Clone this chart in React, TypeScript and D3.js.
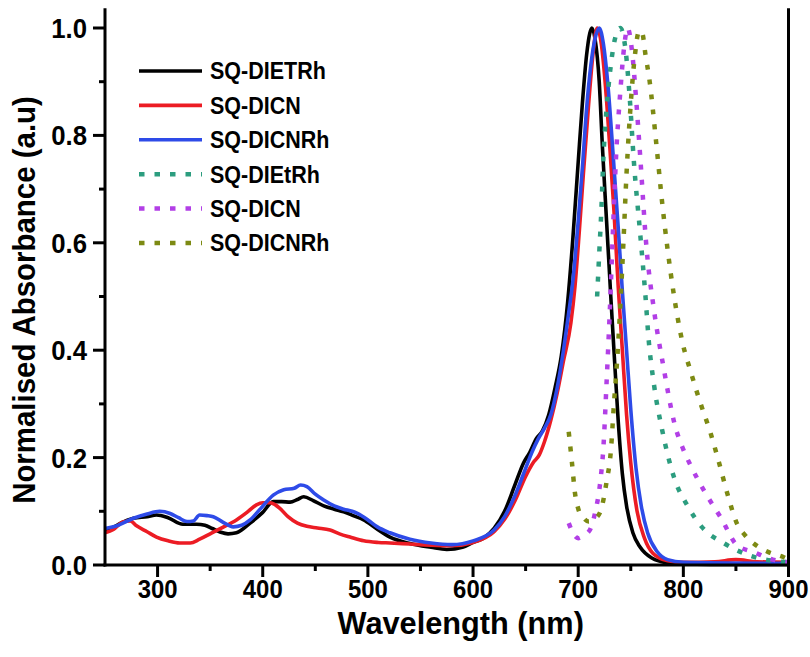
import React from "react";
import * as d3 from "d3";

type P = [number, number];

const xTicksMajor = [300, 400, 500, 600, 700, 800, 900];
const xTicksMinor = [350, 450, 550, 650, 750, 850];
const yTicksMajor = [0, 0.2, 0.4, 0.6, 0.8, 1.0];
const yTicksMinor = [0.1, 0.3, 0.5, 0.7, 0.9];

const sqDIETRh: P[] = [[250,0.062],[258,0.07],[265,0.078],[277,0.087],[290,0.09],[299,0.093],[310,0.088],[324,0.076],[337,0.076],[345,0.074],[352,0.068],[360,0.061],[367,0.058],[375,0.06],[388,0.078],[400,0.098],[410,0.118],[418,0.118],[426,0.117],[433,0.122],[439,0.127],[448,0.12],[458,0.11],[468,0.104],[477,0.099],[486,0.092],[496,0.084],[508,0.068],[521,0.052],[540,0.04],[560,0.033],[575,0.029],[590,0.033],[600,0.042],[610,0.05],[620,0.068],[630,0.1],[640,0.15],[648,0.19],[654,0.21],[660,0.235],[666,0.25],[672,0.28],[678,0.33],[684,0.39],[690,0.49],[695,0.61],[700,0.75],[704,0.86],[708,0.95],[711,0.99],[713,1.0],[716,0.98],[720,0.9],[723,0.78],[727,0.64],[731,0.5],[734,0.4],[738,0.27],[742,0.17],[746,0.11],[752,0.06],[759,0.033],[770,0.013],[785,0.004],[800,0.002],[850,0.001],[900,0.001]];

const sqDICN: P[] = [[250,0.06],[258,0.066],[267,0.08],[274,0.082],[280,0.073],[290,0.062],[299,0.052],[310,0.045],[321,0.041],[331,0.041],[340,0.048],[350,0.058],[362,0.07],[375,0.084],[385,0.098],[394,0.112],[400,0.116],[407,0.116],[412,0.112],[416,0.106],[424,0.09],[433,0.078],[442,0.072],[452,0.069],[464,0.065],[473,0.058],[483,0.052],[496,0.045],[510,0.042],[521,0.041],[540,0.039],[560,0.037],[580,0.036],[600,0.042],[620,0.062],[630,0.085],[640,0.12],[650,0.165],[657,0.19],[663,0.205],[668,0.23],[674,0.27],[680,0.32],[686,0.38],[693,0.45],[697,0.52],[701,0.62],[705,0.73],[710,0.86],[714,0.95],[718,1.0],[722,0.97],[726,0.89],[730,0.78],[734,0.66],[738,0.52],[742,0.4],[746,0.28],[750,0.19],[756,0.1],[763,0.05],[771,0.022],[785,0.008],[800,0.005],[830,0.006],[850,0.01],[870,0.006],[900,0.005]];

const sqDICNRh: P[] = [[250,0.068],[260,0.072],[277,0.087],[290,0.095],[302,0.1],[312,0.096],[320,0.088],[328,0.081],[334,0.082],[340,0.093],[347,0.092],[353,0.09],[362,0.08],[372,0.071],[380,0.074],[388,0.084],[398,0.105],[410,0.13],[420,0.14],[430,0.143],[436,0.149],[442,0.146],[450,0.132],[458,0.121],[468,0.11],[477,0.104],[485,0.1],[490,0.096],[500,0.084],[509,0.071],[521,0.06],[540,0.048],[560,0.041],[580,0.038],[600,0.045],[620,0.065],[630,0.09],[640,0.13],[650,0.18],[656,0.21],[662,0.235],[668,0.255],[674,0.28],[680,0.33],[686,0.4],[691,0.47],[695,0.53],[700,0.64],[704,0.74],[708,0.85],[712,0.93],[716,0.98],[720,1.0],[724,0.97],[728,0.9],[733,0.77],[738,0.63],[742,0.51],[746,0.4],[750,0.29],[755,0.18],[760,0.11],[766,0.06],[775,0.025],[785,0.01],[800,0.005],[900,0.003]];

const sqDIEtRhDot: P[] = [[718,0.5],[720,0.58],[722,0.66],[724,0.76],[727,0.85],[731,0.93],[735,0.98],[740,1.0],[745,0.96],[749,0.87],[753,0.75],[759,0.616],[764,0.5],[767,0.42],[772,0.337],[780,0.25],[791,0.164],[804,0.11],[818,0.07],[839,0.04],[864,0.017],[900,0.005]];

const sqDICNDot: P[] = [[691,0.078],[695,0.06],[700,0.05],[705,0.055],[711,0.065],[716,0.097],[721,0.155],[724,0.22],[727,0.34],[730,0.47],[733,0.62],[736,0.76],[740,0.88],[744,0.97],[747,1.0],[751,0.96],[755,0.87],[759,0.76],[765,0.59],[772,0.476],[781,0.37],[792,0.26],[800,0.215],[807,0.185],[821,0.134],[836,0.087],[851,0.037],[867,0.024],[885,0.01],[900,0.005]];

const sqDICNRhDot: P[] = [[691,0.248],[694,0.192],[697,0.133],[700,0.105],[705,0.088],[710,0.081],[715,0.085],[721,0.099],[727,0.155],[731,0.211],[734,0.3],[737,0.38],[740,0.48],[743,0.6],[746,0.73],[750,0.86],[754,0.95],[758,0.995],[761,0.99],[764,0.95],[768,0.9],[774,0.79],[780,0.672],[785,0.588],[791,0.503],[799,0.416],[807,0.36],[816,0.303],[826,0.245],[834,0.19],[842,0.132],[851,0.077],[858,0.057],[869,0.037],[881,0.024],[895,0.015],[900,0.01]];

const seriesNames = ["SQ-DIETRh", "SQ-DICN", "SQ-DICNRh", "SQ-DIEtRh", "SQ-DICN", "SQ-DICNRh"];
const seriesData = [sqDIETRh, sqDICN, sqDICNRh, sqDIEtRhDot, sqDICNDot, sqDICNRhDot];
const seriesColors = ["#000000", "#EC1C24", "#2E4BE8", "#2C9D7F", "#B23FE6", "#7D8A13"];
const seriesDotted = [false, false, false, true, true, true];

const FONT = "'Liberation Sans', Arial, Helvetica, sans-serif";
const SX = 0.92;

export default function App() {
  const x = d3.scaleLinear().domain([250, 900]).range([105, 788.5]);
  const y = d3.scaleLinear().domain([0, 1]).range([565, 28]);
  const line = d3
    .line<P>()
    .x((d) => x(d[0]))
    .y((d) => y(d[1]))
    .curve(d3.curveMonotoneX);

  const x0 = x(250);
  const x1 = x(900);
  const yb = y(0);
  const yt = y(1.037);

  return (
    <svg
      width={810}
      height={657}
      style={{ position: "absolute", left: 0, top: 0, background: "#fff" }}
      fontFamily={FONT}
    >
      <rect width={810} height={657} fill="#fff" />
      {seriesData.map((d, i) => (
        <path
          key={i}
          d={line(d) || ""}
          fill="none"
          stroke={seriesColors[i]}
          strokeWidth={seriesDotted[i] ? 4.5 : 3.6}
          strokeDasharray={seriesDotted[i] ? "5 10" : undefined}
          strokeLinejoin="round"
        />
      ))}
      <g stroke="#000" strokeWidth={3} fill="none">
        <line x1={x0} y1={yt} x2={x0} y2={yb + 1.5} />
        <line x1={x0 - 1.5} y1={yb} x2={x1 + 1.5} y2={yb} />
        <line x1={x1} y1={yt} x2={x1} y2={yb} />
        {xTicksMajor.map((t) => (
          <line key={"xm" + t} x1={x(t)} x2={x(t)} y1={yb} y2={yb + 12} />
        ))}
        {xTicksMinor.map((t) => (
          <line key={"xn" + t} x1={x(t)} x2={x(t)} y1={yb} y2={yb + 6} />
        ))}
        {yTicksMajor.map((t) => (
          <line key={"ym" + t} x1={x0} x2={x0 - 12} y1={y(t)} y2={y(t)} />
        ))}
        {yTicksMinor.map((t) => (
          <line key={"yn" + t} x1={x0} x2={x0 - 6} y1={y(t)} y2={y(t)} />
        ))}
      </g>
      {xTicksMajor.map((t) => (
        <text
          key={"xl" + t}
          transform={`translate(${x(t)},${598}) scale(${SX},1)`}
          textAnchor="middle"
          fontSize={26}
          fontWeight="bold"
        >
          {t}
        </text>
      ))}
      {yTicksMajor.map((t) => (
        <text
          key={"yl" + t}
          transform={`translate(${87},${y(t) + 10}) scale(${SX},1)`}
          textAnchor="end"
          fontSize={28}
          fontWeight="bold"
        >
          {t.toFixed(1)}
        </text>
      ))}
      <text
        transform={`translate(${(x0 + x1) / 2 + 14},${634}) scale(0.96,1)`}
        textAnchor="middle"
        fontSize={32}
        fontWeight="bold"
      >
        Wavelength (nm)
      </text>
      <text
        transform={`translate(${35},${300}) rotate(-90) scale(${SX},1)`}
        textAnchor="middle"
        fontSize={32}
        fontWeight="bold"
      >
        Normalised Absorbance (a.u)
      </text>
      {seriesNames.map((n, i) => {
        const cy = 71 + i * 34.4;
        return (
          <g key={"lg" + i}>
            <line
              x1={139}
              x2={202}
              y1={cy}
              y2={cy}
              stroke={seriesColors[i]}
              strokeWidth={seriesDotted[i] ? 4.5 : 3.6}
              strokeDasharray={seriesDotted[i] ? "5.5 10" : undefined}
            />
            <text
              transform={`translate(210,${cy + 8.3}) scale(0.935,1)`}
              fontSize={23}
              fontWeight="bold"
            >
              {n}
            </text>
          </g>
        );
      })}
    </svg>
  );
}
